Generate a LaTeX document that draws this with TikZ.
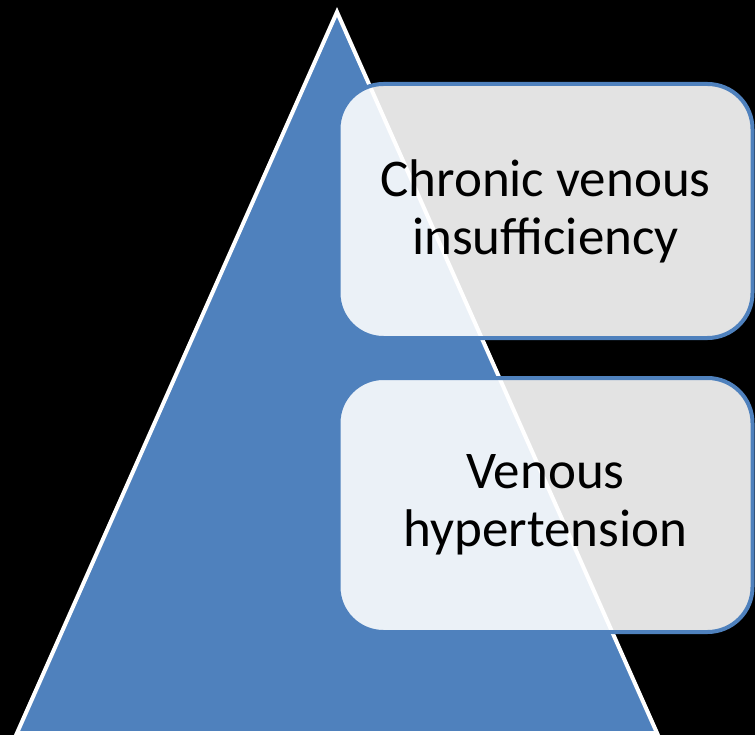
\documentclass[tikz,border=0pt]{standalone}
\usepackage{fontspec}
\setmainfont{Carlito}
\usepackage{tikz}
\usetikzlibrary{positioning}
\definecolor{levelblue}{RGB}{79, 129, 189}
\definecolor{pyramidblue}{RGB}{79, 129, 189}

\begin{document}
\begin{tikzpicture}[x=1pt, y=-1pt,
    level/.style={rectangle, rounded corners=45pt, draw=levelblue, line width=4pt, fill=white, fill opacity=0.89, text opacity=1, minimum width=414pt, minimum height=254pt, inner sep=0pt, align=center, font=\fontsize{53}{58}\selectfont},
    pyramid/.style={fill=pyramidblue, draw=white, line width=4pt, line join=miter}
]
    \fill[black] (0,0) rectangle (755,735);
    \useasboundingbox (0,0) rectangle (755,735);

    % Pyramid
    \draw[pyramid] (337,12) -- (657,733) -- (17,733) -- cycle;

    % Levels
    \node[level] (cvi) at (545.5,211) {Chronic venous\\insufficiency};
    \node[level, below=36pt of cvi] (vh) {Venous\\hypertension};
\end{tikzpicture}
\end{document}
